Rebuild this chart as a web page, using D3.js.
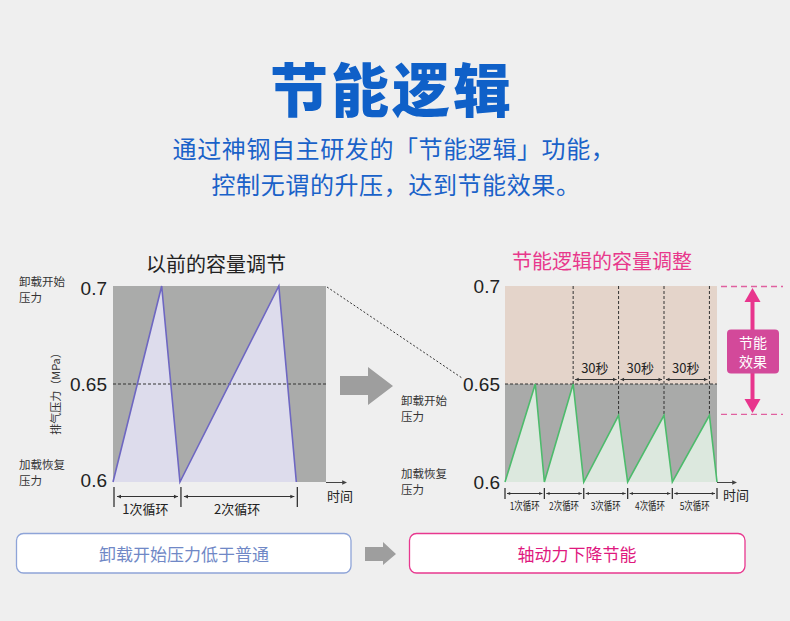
<!DOCTYPE html>
<html><head><meta charset="utf-8">
<script src="https://cdn.jsdelivr.net/npm/d3@7/dist/d3.min.js"></script>
<style>
html,body{margin:0;padding:0;background:#efefef;}
svg{display:block;font-family:"Noto Sans CJK SC","Noto Sans",sans-serif;}
.num{font-family:"Liberation Sans",Arial,sans-serif;}
</style></head>
<body><svg id="c" width="790" height="621"></svg>
<script>
// ---- data ----
const yTicks = [0.6, 0.65, 0.7];
const yTickLabels = ["0.6", "0.65", "0.7"];
const timeLeft = [0, 32, 44, 109, 120.5];
const pressureLeft = [0.6, 0.7, 0.6, 0.7, 0.6];
const cyclesLeft = [0, 44, 120.5];
const cycleLabelsLeft = ["1次循环", "2次循环"];
const timeRight = [0, 20, 26, 45, 52, 75, 81, 105, 110.5, 135, 140];
const pressureRight = [0.6, 0.65, 0.6, 0.65, 0.6, 0.634, 0.6, 0.634, 0.6, 0.634, 0.6];
const cyclesRight = [0, 26, 52, 81, 110.5, 140];
const cycleLabelsRight = ["1次循环", "2次循环", "3次循环", "4次循环", "5次循环"];
const intervalMarks = [45, 75, 105, 135];
const intervalLabel = "30秒";
const unloadPressure = 0.65;
const savedLevel = 0.634;

const svg = d3.select("#c");
svg.append("rect").attr("width",790).attr("height",621).attr("fill","#efefef");

// ---- header ----
svg.append("text").attr("x",392).attr("y",87).attr("text-anchor","middle").attr("dominant-baseline","central")
  .attr("font-size",58).attr("font-weight",900).attr("fill","#0f60c8").attr("letter-spacing",3).text("节能逻辑");
svg.append("text").attr("x",394).attr("y",147).attr("text-anchor","middle").attr("dominant-baseline","central")
  .attr("font-size",24).attr("fill","#1a62c9").attr("letter-spacing",0.6).text("通过神钢自主研发的「节能逻辑」功能，");
svg.append("text").attr("x",396).attr("y",183).attr("text-anchor","middle").attr("dominant-baseline","central")
  .attr("font-size",24).attr("fill","#1a62c9").attr("letter-spacing",0.6).text("控制无谓的升压，达到节能效果。");

// ---- scales ----
const y = d3.scaleLinear().domain([0.6,0.7]).range([482,286]);
const xL = d3.scaleLinear().domain([0,140]).range([113,326]);
const xR = d3.scaleLinear().domain([0,140]).range([505,717]);

function tri(g, x1, yy, dir, s, col){
  g.append("path").attr("d",`M${x1},${yy} L${x1-dir*s*1.6},${yy-s*0.75} L${x1-dir*s*1.6},${yy+s*0.75} Z`).attr("fill",col);
}
function dblArrow(g, a, b, yy, col, s){
  g.append("line").attr("x1",a).attr("x2",b).attr("y1",yy).attr("y2",yy).attr("stroke",col).attr("stroke-width",1);
  tri(g,a,yy,-1,s,col); tri(g,b,yy,1,s,col);
}
function multiline(g, x, ys, lines, size, anchor, col){
  lines.forEach((t,i)=>g.append("text").attr("x",x).attr("y",ys[i]).attr("font-size",size)
    .attr("text-anchor",anchor).attr("dominant-baseline","central").attr("fill",col).text(t));
}

// ---- left chart ----
const L = svg.append("g");
L.append("text").attr("x",216).attr("y",263).attr("text-anchor","middle").attr("dominant-baseline","central")
  .attr("font-size",20).attr("fill","#222").text("以前的容量调节");
L.append("rect").attr("x",xL(0)).attr("y",y(0.7)).attr("width",xL(140)-xL(0)).attr("height",y(0.6)-y(0.7)).attr("fill","#aaabaa");
const ptsL = timeLeft.map((t,i)=>[t,pressureLeft[i]]);
L.append("path").datum(ptsL).attr("d",d3.area().x(d=>xL(d[0])).y0(y(0.6)).y1(d=>y(d[1]))).attr("fill","#dddcec");
L.append("line").attr("x1",xL(0)).attr("x2",xL(140)).attr("y1",y(unloadPressure)).attr("y2",y(unloadPressure))
  .attr("stroke","#333").attr("stroke-dasharray","3,2").attr("stroke-width",1);
L.append("path").datum(ptsL).attr("d",d3.line().x(d=>xL(d[0])).y(d=>y(d[1]))).attr("fill","none").attr("stroke","#6e67c2").attr("stroke-width",1.6);
yTicks.forEach((v,i)=>L.append("text").attr("class","num").attr("x",107).attr("y",y(v)+ (i===2?2:(i===0?-2:0))).attr("text-anchor","end")
  .attr("dominant-baseline","central").attr("font-size",19).attr("fill","#222").text(yTickLabels[i]));
multiline(L,19,[281,296.5],["卸载开始","压力"],11.5,"start","#333");
multiline(L,19,[464,479.5],["加载恢复","压力"],11.5,"start","#333");
L.append("text").attr("transform",`translate(55,391) rotate(-90)`).attr("text-anchor","middle").attr("dominant-baseline","central")
  .attr("font-size",11).attr("fill","#333").text("排气压力（MPa）");
L.append("line").attr("x1",xL(140)).attr("x2",345).attr("y1",482.5).attr("y2",482.5).attr("stroke","#444").attr("stroke-width",1);
tri(L,347,482.5,1,3,"#444");
L.append("text").attr("x",327).attr("y",495).attr("font-size",13).attr("dominant-baseline","central").attr("fill","#222").text("时间");
cyclesLeft.forEach(t=>L.append("line").attr("x1",xL(t)+1).attr("x2",xL(t)+1).attr("y1",487).attr("y2",507).attr("stroke","#333").attr("stroke-width",1.3));
cycleLabelsLeft.forEach((lab,i)=>{
  const a = xL(cyclesLeft[i])+4, b = xL(cyclesLeft[i+1])-2;
  dblArrow(L,a,b,496.5,"#333",2.5);
  L.append("text").attr("x",(a+b)/2-2).attr("y",508).attr("text-anchor","middle").attr("dominant-baseline","central")
    .attr("font-size",13).attr("fill","#222").text(lab);
});

// ---- connectors ----
svg.append("line").attr("x1",327).attr("y1",287).attr("x2",462).attr("y2",378).attr("stroke","#333").attr("stroke-dasharray","2,2").attr("stroke-width",1);
svg.append("path").attr("d","M340,376 L368,376 L368,367 L393,386 L368,405 L368,395 L340,395 Z").attr("fill","#9e9e9e");

// ---- right chart ----
const R = svg.append("g");
R.append("text").attr("x",602).attr("y",260).attr("text-anchor","middle").attr("dominant-baseline","central")
  .attr("font-size",20).attr("fill","#e8388c").text("节能逻辑的容量调整");
R.append("rect").attr("x",xR(0)).attr("y",y(0.7)).attr("width",xR(140)-xR(0)).attr("height",y(unloadPressure)-y(0.7)).attr("fill","#e4d4ca");
R.append("rect").attr("x",xR(0)).attr("y",y(unloadPressure)).attr("width",xR(140)-xR(0)).attr("height",y(0.6)-y(unloadPressure)).attr("fill","#a9aaa9");
const ptsR = timeRight.map((t,i)=>[t,pressureRight[i]]);
R.append("path").datum(ptsR).attr("d",d3.area().x(d=>xR(d[0])).y0(y(0.6)).y1(d=>y(d[1]))).attr("fill","#dce8de");
R.append("line").attr("x1",xR(0)).attr("x2",xR(140)).attr("y1",y(unloadPressure)).attr("y2",y(unloadPressure))
  .attr("stroke","#333").attr("stroke-dasharray","3,2").attr("stroke-width",1);
intervalMarks.forEach(t=>{
  const p = pressureRight[timeRight.indexOf(t)];
  R.append("line").attr("x1",xR(t)).attr("x2",xR(t)).attr("y1",y(0.7)).attr("y2",y(p)).attr("stroke","#333").attr("stroke-dasharray","3,2").attr("stroke-width",1);
});
R.append("path").datum(ptsR).attr("d",d3.line().x(d=>xR(d[0])).y(d=>y(d[1]))).attr("fill","none").attr("stroke","#4dbb6c").attr("stroke-width",1.6);
for(let i=0;i<intervalMarks.length-1;i++){
  const a=xR(intervalMarks[i])+2, b=xR(intervalMarks[i+1])-2;
  dblArrow(R,a,b,379.5,"#333",2.2);
  R.append("text").attr("x",(a+b)/2-1).attr("y",367).attr("text-anchor","middle").attr("dominant-baseline","central")
    .attr("font-size",13).attr("fill","#222").text(intervalLabel);
}
yTicks.forEach((v,i)=>R.append("text").attr("class","num").attr("x",500).attr("y",y(v)).attr("text-anchor","end")
  .attr("dominant-baseline","central").attr("font-size",19).attr("fill","#222").text(yTickLabels[i]));
multiline(R,401,[400,415.5],["卸载开始","压力"],11.5,"start","#333");
multiline(R,401,[473,488.5],["加载恢复","压力"],11.5,"start","#333");
R.append("line").attr("x1",xR(140)).attr("x2",733).attr("y1",482.5).attr("y2",482.5).attr("stroke","#444").attr("stroke-width",1);
tri(R,737,482.5,1,3,"#444");
R.append("text").attr("x",723).attr("y",494).attr("font-size",13).attr("dominant-baseline","central").attr("fill","#222").text("时间");
cyclesRight.forEach(t=>R.append("line").attr("x1",xR(t)).attr("x2",xR(t)).attr("y1",488).attr("y2",499).attr("stroke","#333").attr("stroke-width",1.3));
cycleLabelsRight.forEach((lab,i)=>{
  const a = xR(cyclesRight[i])+2, b = xR(cyclesRight[i+1])-2;
  dblArrow(R,a,b,493.5,"#333",2);
  R.append("text").attr("x",(a+b)/2).attr("y",505).attr("text-anchor","middle").attr("dominant-baseline","central")
    .attr("font-size",11).attr("textLength",30).attr("lengthAdjust","spacingAndGlyphs").attr("fill","#222").text(lab);
});
[y(0.7)+0.5, y(savedLevel)-1].forEach(yy=>R.append("line").attr("x1",721).attr("x2",783).attr("y1",yy).attr("y2",yy)
  .attr("stroke","#e0609f").attr("stroke-dasharray","6,4").attr("stroke-width",1.4));
R.append("line").attr("x1",752.5).attr("x2",752.5).attr("y1",298).attr("y2",403).attr("stroke","#e8358d").attr("stroke-width",4);
R.append("path").attr("d","M752.5,288 L744.5,302 L760.5,302 Z").attr("fill","#e8358d");
R.append("path").attr("d","M752.5,413 L744.5,399 L760.5,399 Z").attr("fill","#e8358d");
R.append("rect").attr("x",727).attr("y",329.5).attr("width",52).attr("height",44).attr("rx",4).attr("fill","#d3499a");
multiline(R,753,[342,361],["节能","效果"],14,"middle","#fff");

// ---- bottom boxes ----
svg.append("rect").attr("x",16.5).attr("y",533.5).attr("width",334.5).attr("height",39.5).attr("rx",7).attr("fill","#fff").attr("stroke","#8ea4d8").attr("stroke-width",1.3);
svg.append("text").attr("x",184).attr("y",553).attr("text-anchor","middle").attr("dominant-baseline","central").attr("font-size",17).attr("fill","#7088c6").text("卸载开始压力低于普通");
svg.append("path").attr("d","M365,547 L383,547 L383,542 L396,554 L383,565 L383,561 L365,561 Z").attr("fill","#9e9e9e");
svg.append("rect").attr("x",409.5).attr("y",533.5).attr("width",335.5).attr("height",39.5).attr("rx",7).attr("fill","#fff").attr("stroke","#e8388f").attr("stroke-width",1.3);
svg.append("text").attr("x",577).attr("y",553).attr("text-anchor","middle").attr("dominant-baseline","central").attr("font-size",17).attr("fill","#e0197f").text("轴动力下降节能");
</script></body></html>
